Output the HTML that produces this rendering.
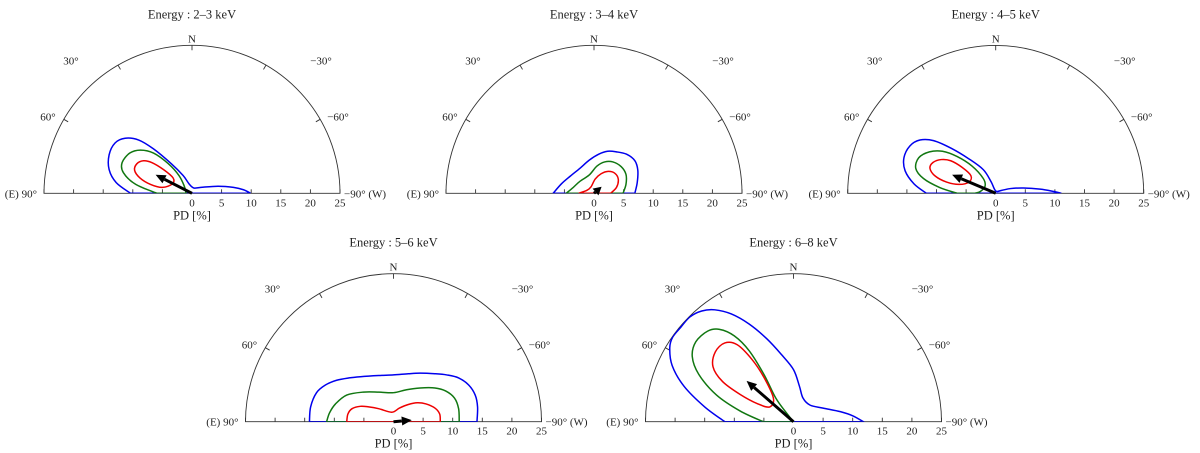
<!DOCTYPE html>
<html><head><meta charset="utf-8">
<style>
html,body{margin:0;padding:0;background:#fff;}
svg{display:block;}
svg text{font-family:"Liberation Serif","DejaVu Serif",serif;}
</style></head>
<body>
<svg id="chart" width="1200" height="453" viewBox="0 0 1200 453" xmlns="http://www.w3.org/2000/svg"></svg>
<script>
// ---- data ----
const energyLabels = ["2–3 keV","3–4 keV","4–5 keV","5–6 keV","6–8 keV"];
const arrowPD = [6.9, 1.7, 8.0, 3.1, 10.5];
const arrowPA = [63, -49, 67, -85, 49];
const radialTicks = [0,5,10,15,20,25];
const angleTicks = [30,60,-30,-60];
// contours: [x(PD, +west), y(PD, north)] pairs
const red1=[[-9.7,3.9],[-9.3,5.0],[-8.2,5.5],[-6.8,5.2],[-4.8,4.0],[-3.2,2.6],[-3.3,1.6],[-5.0,1.0],[-7.0,1.5],[-8.8,2.6]];
const green1=[[-5.9,0],[-9.5,1.5],[-11.6,3.5],[-11.8,5.2],[-10.5,6.8],[-8.7,7.3],[-6.5,6.8],[-4.0,5.0],[-2.2,3.0],[-1.3,1.2],[-1.0,0]];
const blue1=[[-10.4,0],[-12.8,1.8],[-14.0,4.0],[-14.0,6.5],[-13.0,8.5],[-11.3,9.3],[-9.0,9.0],[-6.5,7.5],[-3.5,5.0],[-1.5,3.0],[-0.5,1.6],[0.3,0.9],[1.5,1.0],[4.4,1.2],[7.0,1.0],[8.7,0.6],[9.9,0]];
const red2=[[-2.6,0],[-1.2,0.5],[-0.5,1.1],[0.2,2.4],[1.2,3.3],[2.4,3.7],[3.5,3.4],[4.1,2.4],[3.8,1.0],[2.8,0]];
const green2=[[-4.7,0],[-3.5,1.0],[-2.4,2.0],[-0.8,3.1],[0.5,4.6],[1.8,5.3],[3.2,5.3],[4.6,4.5],[5.4,3.2],[5.4,1.5],[4.9,0]];
const blue2=[[-6.9,0],[-5.5,1.6],[-4.0,2.9],[-2.4,4.2],[-0.8,5.6],[0.8,6.6],[2.3,7.1],[3.8,7.0],[5.5,6.6],[6.9,5.5],[7.4,3.9],[7.3,1.8],[6.9,0]];
const red3=[[-11.1,4.2],[-10.6,5.2],[-9.2,5.7],[-7.6,5.5],[-5.7,4.4],[-4.2,3.0],[-4.5,1.9],[-6.2,1.5],[-8.3,1.9],[-10.2,2.9]];
const green3=[[-6.5,0],[-9.5,1.0],[-12.2,2.5],[-13.5,4.2],[-13.0,6.0],[-11.2,7.0],[-9.0,7.1],[-6.5,6.2],[-4.0,4.6],[-2.1,2.5],[-1.8,1.2],[-2.6,0.3],[-3.5,0]];
const blue3=[[-11.7,0],[-13.8,1.6],[-15.3,3.8],[-15.5,6.0],[-14.5,8.0],[-12.8,9.0],[-10.5,8.9],[-7.5,7.6],[-4.5,5.8],[-2.1,4.0],[-0.8,2.0],[0,0.4],[1.0,0.5],[2.5,0.8],[4.7,0.9],[7.5,0.7],[9.8,0.3],[11.1,0]];
const red4=[[-7.9,0],[-7.7,1.3],[-7.0,2.2],[-5.6,2.6],[-4.2,2.5],[-2.5,2.2],[-0.3,1.6],[1.0,2.3],[2.5,2.9],[4.0,3.2],[5.5,3.0],[7.0,2.3],[7.8,1.3],[7.9,0]];
const green4=[[-11.3,0],[-10.8,1.5],[-9.8,3.0],[-7.9,4.5],[-5.1,5.0],[-2.5,5.0],[0,4.9],[2.2,5.4],[4.5,5.7],[7.0,5.7],[8.8,5.2],[10.3,4.0],[11.0,2.2],[11.1,0]];
const blue4=[[-14.2,0],[-14.0,2.5],[-13.0,4.9],[-11.5,6.2],[-9.6,7.0],[-7.5,7.4],[-5.6,7.6],[-2.5,7.8],[0,7.9],[2.5,8.1],[4.5,8.2],[7.0,8.1],[9.0,7.9],[11.0,7.4],[12.7,6.2],[13.8,4.5],[14.2,2.5],[14.1,0]];
const red5=[[-13.6,9.3],[-13.2,11.8],[-11.6,13.3],[-9.5,13.0],[-7.0,10.5],[-5.0,7.5],[-3.4,4.0],[-4.0,2.5],[-6.0,3.0],[-9.0,4.6],[-12.0,6.8]];
const green5=[[-5.1,0],[-9,1.8],[-13,4.5],[-16,8],[-17.1,11],[-16.5,13.5],[-14.5,15.3],[-12.5,15.6],[-10,14.5],[-7.5,12.0],[-5.0,8.0],[-3.0,4.0],[-1.2,1.5],[0,0]];
const blue5=[[-11.6,0],[-15,2.5],[-18.5,6],[-20.5,9.5],[-20.9,12.5],[-20.4,14.3],[-19.0,16.0],[-17.5,17.7],[-15.5,18.7],[-13.3,18.9],[-10.5,18.2],[-7.5,16.5],[-4.5,14.0],[-2.0,11.3],[0,8.8],[1.0,6.0],[1.6,4.0],[2.8,2.8],[5,2.3],[7.9,1.7],[10,1.0],[11.8,0]];
const redC=[red1,red2,red3,red4,red5];
const greenC=[green1,green2,green3,green4,green5];
const blueC=[blue1,blue2,blue3,blue4,blue5];

// ---- layout ----
const centers=[[192,193.3],[594,193.3],[995.7,193.3],[393.5,421.7],[793.5,421.7]];
const R=148, RMAX=25;
const NS="http://www.w3.org/2000/svg";
const svg=document.getElementById('chart');
function mk(tag,attrs,parent){const e=document.createElementNS(NS,tag);for(const k in attrs)e.setAttribute(k,attrs[k]);(parent||svg).appendChild(e);return e;}
function sx(cx,x){return cx+x*R/RMAX;}
function sy(cy,y){return cy-y*R/RMAX;}
function smoothPath(pts,closed){
  const n=pts.length;let d=`M${pts[0][0].toFixed(2)},${pts[0][1].toFixed(2)}`;
  const get=i=>closed?pts[(i+n)%n]:pts[Math.max(0,Math.min(n-1,i))];
  const segs=closed?n:n-1;
  for(let i=0;i<segs;i++){
    const p0=get(i-1),p1=get(i),p2=get(i+1),p3=get(i+2);
    const c1=[p1[0]+(p2[0]-p0[0])/6,p1[1]+(p2[1]-p0[1])/6];
    const c2=[p2[0]-(p3[0]-p1[0])/6,p2[1]-(p3[1]-p1[1])/6];
    d+=` C${c1[0].toFixed(2)},${c1[1].toFixed(2)} ${c2[0].toFixed(2)},${c2[1].toFixed(2)} ${p2[0].toFixed(2)},${p2[1].toFixed(2)}`;
  }
  return d+'Z';
}
function txt(x,y,s,anchor,size,parent){const t=mk('text',{x:x,y:y,'text-anchor':anchor,'font-size':size,'font-family':'Liberation Serif, serif',fill:'#222'},parent);t.textContent=s;return t;}

for(let p=0;p<5;p++){
  const [cx,cy]=centers[p];
  const g=mk('g',{});
  
  
  const cp=mk('clipPath',{id:'clip'+p},g);
  mk('path',{d:`M${cx-R},${cy} A${R},${R} 0 0 1 ${cx+R},${cy} Z`},cp);
  const fr=mk('path',{d:`M${cx-R},${cy} A${R},${R} 0 0 1 ${cx+R},${cy} Z`,fill:'none',stroke:'#333','stroke-width':0.9},g);
  
  
  [0].concat(angleTicks).forEach(a=>{
    const th=a*Math.PI/180;
    const ux=-Math.sin(th),uy=Math.cos(th);
    mk('line',{x1:cx+ux*R,y1:cy-uy*R,x2:cx+ux*(R-5),y2:cy-uy*(R-5),stroke:'#333','stroke-width':0.9},g);
  });
  radialTicks.forEach(v=>{
    if(v===0)return;
    mk('line',{x1:sx(cx,v),y1:cy,x2:sx(cx,v),y2:cy-4,stroke:'#333','stroke-width':0.9},g);
    mk('line',{x1:sx(cx,-v),y1:cy,x2:sx(cx,-v),y2:cy-4,stroke:'#333','stroke-width':0.9},g);
    const t=txt(sx(cx,v),cy+13,String(v),'middle',11,g);
    
    
  });
  const t0=txt(sx(cx,0),cy+13,'0','middle',11,g);
  
  
  const title=txt(cx,cy-175,'Energy : '+energyLabels[p],'middle',12.5,g);
  
  
  const nl=txt(cx,cy-151,'N','middle',11,g);
  
  
  [['30°',-121,-129],['60°',-144,-73],['−30°',129,-129],['−60°',146,-73]].forEach(l=>{
    const e=txt(cx+l[1],cy+l[2],l[0],'middle',11,g);
    
    
  });
  const el=txt(cx-155,cy+4,'(E) 90°','end',11,g);
  
  
  const wl=txt(cx+152,cy+4,'−90° (W)','start',11,g);
  
  
  const xl=txt(cx,cy+26,'PD [%]','middle',12.5,g);
  
  
  const cg=mk('g',{'clip-path':`url(#clip${p})`},g);
  [[blueC[p],'#0000ee','contour-3sigma'],[greenC[p],'#117711','contour-2sigma'],[redC[p],'#ee0000','contour-1sigma']].forEach(c=>{
    const data=c[0];
    const onBase=data[0][1]<=0.01 && data[data.length-1][1]<=0.01;
    const pts=data.map(q=>[sx(cx,q[0]),sy(cy,q[1])]);
    const path=mk('path',{d:smoothPath(pts,!onBase),fill:'none',stroke:c[1],'stroke-width':1.5},cg);
    
    
  });
  const th=arrowPA[p]*Math.PI/180;
  const tx=sx(cx,-arrowPD[p]*Math.sin(th)), ty=sy(cy,arrowPD[p]*Math.cos(th));
  const dx=tx-cx,dy=ty-cy,len=Math.hypot(dx,dy),ux=dx/len,uy=dy/len;
  const hl=Math.min(10,len*0.8),hw=4.5;
  const bx=tx-ux*hl,by=ty-uy*hl;
  const ag=mk('g',{},g);
  
  
  mk('line',{x1:cx,y1:cy,x2:bx,y2:by,stroke:'#000','stroke-width':3},ag);
  mk('path',{d:`M${tx},${ty} L${bx-uy*hw},${by+ux*hw} L${bx+uy*hw},${by-ux*hw}Z`,fill:'#000'},ag);
}
</script>
</body></html>
